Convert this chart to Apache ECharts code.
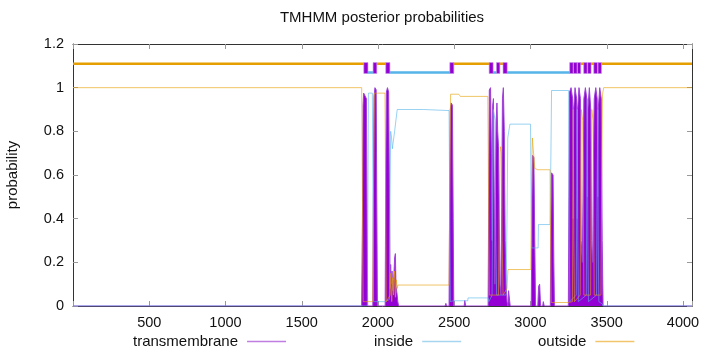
<!DOCTYPE html>
<html>
<head>
<meta charset="utf-8">
<script src="https://cdn.jsdelivr.net/npm/echarts@6/dist/echarts.min.js"></script>
<style>html,body{margin:0;padding:0;background:#fff}#c{width:720px;height:352px}</style>
</head>
<body>
<div id="c"></div>
<script>
// ---- data (residue position, probability) ----
const seqLength = 4059;
const xTicks = [500, 1000, 1500, 2000, 2500, 3000, 3500, 4000];
const yTicks = [0, 0.2, 0.4, 0.6, 0.8, 1, 1.2];

const transmembrane = [
 [0,0],[1893,0],[1898,0.4],[1902,0.92],[1906,0.975],[1916,0.975],[1924,0.95],[1928,0.4],[1932,0],
 [1966,0],[1970,0.5],[1974,0.96],[1980,1.0],[1988,0.99],[1992,0.5],[1996,0],
 [2047,0],[2051,0.6],[2055,0.98],[2062,1.0],[2070,0.98],[2075,0.5],[2079,0.08],[2083,0.19],[2087,0.1],[2092,0.16],[2097,0.07],[2103,0.12],[2109,0.22],[2114,0.24],[2118,0.09],[2124,0.06],[2130,0.02],[2135,0],
 [2440,0],[2445,0.012],[2450,0],
 [2466,0],[2470,0.5],[2474,0.9],[2480,0.93],[2488,0.92],[2493,0.4],[2497,0],
 [2565,0],[2569,0.025],[2575,0],
 [2722,0],[2726,0.5],[2730,0.99],[2738,1.0],[2744,0.7],[2748,0.3],[2752,0.92],[2757,0.95],[2762,0.5],[2766,0.1],[2770,0.6],[2775,0.85],[2780,0.93],[2785,0.8],[2790,0.73],[2795,0.4],[2800,0.1],[2806,0.05],[2811,0.45],[2816,0.95],[2822,1.0],[2828,0.8],[2834,0.3],[2840,0.1],[2846,0.02],[2852,0],[2856,0.07],[2863,0.07],[2867,0],
 [3005,0],[3010,0.5],[3014,0.69],[3022,0.68],[3028,0.3],[3033,0],[3048,0],[3053,0.09],[3060,0.1],[3066,0],[3080,0],[3084,0.02],[3090,0],
 [3130,0],[3134,0.4],[3138,0.61],[3148,0.6],[3153,0.2],[3157,0],
 [3248,0],[3252,0.5],[3256,0.98],[3266,1.0],[3276,0.95],[3280,0.4],[3283,0.9],[3292,1.0],[3302,0.95],[3306,0.4],[3309,0.9],[3318,1.0],[3327,0.95],[3332,0.3],[3340,0.2],[3346,0.6],[3350,0.95],[3360,1.0],[3369,0.95],[3373,0.5],[3376,0.9],[3386,1.0],[3395,0.9],[3400,0.3],[3408,0.2],[3413,0.7],[3418,0.95],[3428,1.0],[3437,0.95],[3441,0.5],[3444,0.9],[3454,1.0],[3464,0.95],[3470,0.3],[3476,0],[4059,0]
];

const inside = [
 [0,0],[1930,0],[1934,0.5],[1937,0.975],[1963,0.975],[1967,0.5],[1971,0.02],[2048,0.02],[2075,0.03],[2079,0.5],[2083,0.8],[2089,0.77],[2094,0.72],[2104,0.72],[2109,0.8],[2122,0.8],[2126,0.9],[2300,0.9],[2466,0.895],[2470,0.5],[2474,0.02],[2495,0.024],[2589,0.024],[2590,0.037],[2722,0.037],[2727,0.02],
 [2748,0.05],[2752,0.5],[2756,0.9],[2768,0.85],[2772,0.3],[2778,0.05],[2840,0.05],[2846,0.4],[2851,0.77],[2861,0.77],[2865,0.833],[3000,0.833],[3004,0.5],[3008,0.266],[3050,0.266],[3052,0.373],[3128,0.373],[3134,0.7],[3138,0.987],[3250,0.987],
 [3254,0.3],[3258,0.02],[3300,0.05],[3304,0.6],[3307,0.9],[3310,0.3],[3314,0.02],[3366,0.05],[3370,0.7],[3373,0.95],[3376,0.3],[3380,0.02],[3433,0.05],[3437,0.6],[3441,0.9],[3444,0.3],[3448,0.02],[3470,0.01],[3476,0],[4059,0]
];

const outside = [
 [0,1.0],[1893,1.0],[1898,0.5],[1903,0.02],[1966,0.02],[1970,0.5],[1976,0.975],[2046,0.975],[2050,0.5],[2054,0.02],[2080,0.05],[2084,0.15],[2090,0.02],[2096,0.13],[2102,0.05],[2108,0.16],[2114,0.04],[2120,0.12],[2126,0.08],[2130,0.096],[2466,0.096],[2470,0.5],[2476,0.97],[2530,0.97],[2540,0.96],[2720,0.96],[2725,0.5],[2730,0.05],[2790,0.05],[2795,0.4],[2802,0.73],[2810,0.7],[2814,0.3],[2820,0.05],[2846,0.08],[2852,0.167],[3002,0.167],[3006,0.5],[3012,0.77],[3022,0.77],[3028,0.63],[3048,0.624],[3128,0.624],[3132,0.3],[3136,0.016],[3250,0.016],
 [3275,0.02],[3278,0.5],[3281,0.9],[3284,0.3],[3288,0.02],[3326,0.05],[3330,0.6],[3334,0.9],[3342,0.85],[3346,0.5],[3350,0.05],[3394,0.05],[3398,0.6],[3402,0.9],[3410,0.85],[3414,0.4],[3418,0.05],[3462,0.05],[3466,0.5],[3472,0.97],[3480,1.0],[4059,1.0]
];

// predicted topology segments [start, end]
const outsideSegments = [[0,1907],[1992,2051],[2497,2729],[2799,2820],[3279,3282],[3329,3349],[3397,3415],[3465,4059]];
const insideSegments = [[1934,1968],[2078,2471],[2755,2777],[2847,3257],[3305,3308],[3371,3375],[3439,3443]];
const tmSegments = [[1907,1934],[1968,1992],[2051,2078],[2471,2497],[2729,2755],[2777,2799],[2820,2847],
 [3257,3279],[3282,3305],[3308,3329],[3349,3371],[3375,3397],[3415,3439],[3443,3465]];
const outsideLevel = 1.11, insideLevel = 1.07, tmBoxTop = 1.115, tmBoxBottom = 1.065;

// ---- build ----
function segLine(segs, level){
  const d = [];
  segs.forEach(s => { d.push([s[0], level]); d.push([s[1], level]); d.push([s[1], null]); });
  return d;
}
const FONT = 'Liberation Sans, Arial, sans-serif';
const chart = echarts.init(document.getElementById('c'), null, {renderer:'canvas'});
const axisCommon = {
  type:'value', min:0, max:seqLength, interval:500,
  axisLine:{show:true, onZero:false, lineStyle:{color:'#333', width:1}},
  axisTick:{show:true, inside:true, length:5, lineStyle:{color:'#999'}},
  splitLine:{show:false}
};
const legendCommon = {top:334, padding:0, align:'right', itemWidth:39, itemHeight:1.5,
  textStyle:{fontFamily:FONT, fontSize:15, color:'#111', padding:[0,4,0,0]}};
chart.setOption({
  animation:false,
  backgroundColor:'#fff',
  grid:{left:73, right:28, top:44, bottom:46, containLabel:false, outerBoundsMode:'none'},
  graphic:[{type:'text', x:382, y:18, style:{text:'TMHMM posterior probabilities', textAlign:'center', textVerticalAlign:'middle', font:'15px ' + FONT, fill:'#111'}}],
  legend:[
    Object.assign({left:133, data:[{name:'transmembrane', icon:'rect', itemStyle:{color:'#c07ee0'}}]}, legendCommon),
    Object.assign({left:374, data:[{name:'inside', icon:'rect', itemStyle:{color:'#a6d6ef'}}]}, legendCommon),
    Object.assign({left:538, data:[{name:'outside', icon:'rect', itemStyle:{color:'#f2c56c'}}]}, legendCommon)
  ],
  xAxis:[
    Object.assign({}, axisCommon, {position:'bottom', axisLabel:{show:true, margin:9, color:'#111', fontFamily:FONT, fontSize:14.5,
      formatter:v => xTicks.indexOf(v) >= 0 ? String(v) : ''}}),
    Object.assign({}, axisCommon, {position:'top', axisLabel:{show:false}})
  ],
  yAxis:[
    {type:'value', min:0, max:1.2, interval:0.2, position:'left',
     name:'probability', nameLocation:'middle', nameGap:53, nameRotate:90, nameTextStyle:{fontFamily:FONT, fontSize:15, color:'#111'},
     axisLine:{show:true, onZero:false, lineStyle:{color:'#333'}}, axisTick:{show:true, inside:true, length:5, lineStyle:{color:'#999'}},
     axisLabel:{margin:9, color:'#111', fontFamily:FONT, fontSize:14.5, formatter:v => { const t = yTicks.find(k => Math.abs(k - v) < 1e-9); return t === undefined ? '' : String(t); }},
     splitLine:{show:false}},
    {type:'value', min:0, max:1.2, interval:0.2, position:'right',
     axisLine:{show:true, onZero:false, lineStyle:{color:'#333'}}, axisTick:{show:true, inside:true, length:5, lineStyle:{color:'#999'}},
     axisLabel:{show:false}, splitLine:{show:false}}
  ],
  series:[
    {name:'transmembrane', type:'line', data:transmembrane, symbol:'none', z:2,
     lineStyle:{color:'#a040d8', width:1}, itemStyle:{color:'#9400d3'}, areaStyle:{color:'#9400d3', opacity:1}},
    {name:'inside', type:'line', data:inside, symbol:'none', z:3,
     lineStyle:{color:'#56b4e9', width:1, opacity:0.6}, itemStyle:{color:'#56b4e9'}},
    {name:'outside', type:'line', data:outside, symbol:'none', z:3,
     lineStyle:{color:'#e69f00', width:1, opacity:0.6}, itemStyle:{color:'#e69f00'}},
    {name:'topo-out', type:'line', data:segLine(outsideSegments, outsideLevel), symbol:'none', connectNulls:false, z:4,
     lineStyle:{color:'#e69f00', width:2.5}},
    {name:'topo-in', type:'line', data:segLine(insideSegments, insideLevel), symbol:'none', connectNulls:false, z:4,
     lineStyle:{color:'#56b4e9', width:2.5}},
    {name:'topo-tm', type:'custom', z:5, data:tmSegments,
     renderItem:function(params, api){
       const p0 = api.coord([api.value(0), tmBoxTop]);
       const p1 = api.coord([api.value(1), tmBoxBottom]);
       return {type:'rect', shape:{x:p0[0], y:p0[1], width:p1[0]-p0[0], height:p1[1]-p0[1]},
               style:{fill:'#9400d3', stroke:'#c58be6', lineWidth:0.6}};
     }}
  ]
});
</script>
</body>
</html>
